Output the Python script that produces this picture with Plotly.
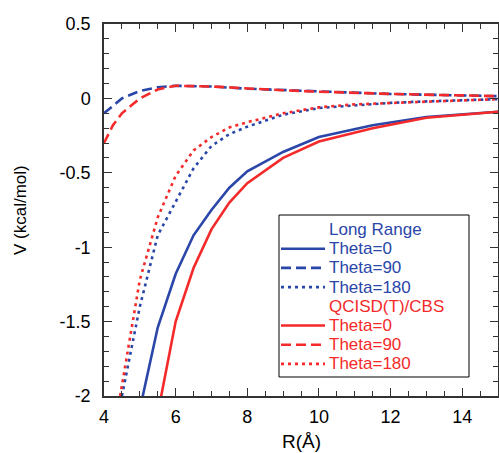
import plotly.graph_objects as go

BLUE = "#2a46a8"
RED = "#f42a2a"

# Long Range
lr_x0 = [5.0, 5.5, 6.0, 6.5, 7.0, 7.5, 8.0, 9.0, 10.0, 11.5, 13.0, 15.0]
lr_y0 = [-2.09, -1.54, -1.18, -0.92, -0.75, -0.60, -0.49, -0.36, -0.26, -0.18, -0.125, -0.09]
lr_x90 = [4.0, 4.5, 5.0, 5.5, 6.0, 7.0, 8.0, 9.0, 10.0, 12.0, 14.0, 15.0]
lr_y90 = [-0.10, 0.0, 0.05, 0.075, 0.085, 0.08, 0.065, 0.055, 0.045, 0.03, 0.02, 0.015]
lr_x180 = [4.5, 5.0, 5.5, 6.0, 6.5, 7.0, 7.5, 8.0, 9.0, 10.0, 11.0, 12.0, 13.0, 14.0, 15.0]
lr_y180 = [-2.0, -1.40, -0.92, -0.70, -0.47, -0.32, -0.24, -0.19, -0.11, -0.065, -0.045, -0.03, -0.02, -0.01, -0.005]

# QCISD(T)/CBS
qc_x0 = [5.5, 6.0, 6.5, 7.0, 7.5, 8.0, 9.0, 10.0, 11.5, 13.0, 15.0]
qc_y0 = [-2.12, -1.50, -1.14, -0.88, -0.70, -0.57, -0.40, -0.29, -0.20, -0.13, -0.09]
qc_x90 = [4.0, 4.25, 4.5, 5.0, 5.5, 6.0, 7.0, 8.0, 9.0, 10.0, 12.0, 14.0, 15.0]
qc_y90 = [-0.30, -0.18, -0.10, 0.0, 0.06, 0.085, 0.08, 0.065, 0.055, 0.045, 0.03, 0.02, 0.015]
qc_x180 = [4.45, 5.0, 5.5, 6.0, 6.5, 7.0, 7.5, 8.0, 9.0, 10.0, 11.0, 12.0, 13.0, 14.0, 15.0]
qc_y180 = [-2.0, -1.22, -0.80, -0.52, -0.35, -0.26, -0.195, -0.16, -0.10, -0.06, -0.04, -0.03, -0.02, -0.01, -0.005]

x_ticks = [4, 6, 8, 10, 12, 14]
y_ticks = [-2, -1.5, -1, -0.5, 0, 0.5]
y_ticklabels = ["-2", "-1.5", "-1", "-0.5", "0", "0.5"]

# legend entries: (text, color, dash or None for a group header)
legend_rows = [
    ("Long Range", BLUE, None),
    ("Theta=0", BLUE, "solid"),
    ("Theta=90", BLUE, "10px,5px"),
    ("Theta=180", BLUE, "3px,4px"),
    ("QCISD(T)/CBS", RED, None),
    ("Theta=0", RED, "solid"),
    ("Theta=90", RED, "10px,5px"),
    ("Theta=180", RED, "3px,4px"),
]

DASH = "10px,5px"
DOT = "3px,4px"
LW = 2.6

W, H = 499, 453
L, R, T, B = 104, 1, 24, 57
PW, PH = W - L - R, H - T - B

def px2paper_x(px):
    return (px - L) / PW

def px2paper_y(py):
    return (H - B - py) / PH

fig = go.Figure()
series = [
    (lr_x0, lr_y0, BLUE, "solid"),
    (lr_x90, lr_y90, BLUE, DASH),
    (lr_x180, lr_y180, BLUE, DOT),
    (qc_x0, qc_y0, RED, "solid"),
    (qc_x90, qc_y90, RED, DASH),
    (qc_x180, qc_y180, RED, DOT),
]
for xs, ys, c, d in series:
    fig.add_trace(go.Scatter(x=xs, y=ys, mode="lines", showlegend=False,
                             line=dict(color=c, width=LW, dash=d)))

FONT = "Liberation Sans, Arial, sans-serif"

shapes = []
annotations = []
# legend box
shapes.append(dict(type="rect", xref="paper", yref="paper",
                   x0=px2paper_x(279), x1=px2paper_x(469),
                   y0=px2paper_y(377), y1=px2paper_y(215),
                   line=dict(color="black", width=1), fillcolor="white", layer="above"))
row_y0, row_dy = 229.5, 19.2
for i, (txt, c, d) in enumerate(legend_rows):
    yc = row_y0 + i * row_dy
    if d is not None:
        shapes.append(dict(type="line", xref="paper", yref="paper",
                           x0=px2paper_x(281), x1=px2paper_x(325),
                           y0=px2paper_y(yc), y1=px2paper_y(yc),
                           line=dict(color=c, width=LW, dash=d), layer="above"))
    annotations.append(dict(xref="paper", yref="paper", x=px2paper_x(328), y=px2paper_y(yc),
                            xanchor="left", yanchor="middle", showarrow=False, borderpad=0,
                            text=txt, font=dict(family=FONT, size=17, color=c)))

annotations.append(dict(xref="paper", yref="paper", x=px2paper_x(301), y=px2paper_y(442),
                        xanchor="center", yanchor="middle", showarrow=False,
                        text="R(Å)", font=dict(family=FONT, size=19, color="black")))
annotations.append(dict(xref="paper", yref="paper", x=px2paper_x(20), y=px2paper_y(210),
                        xanchor="center", yanchor="middle", showarrow=False, textangle=-90,
                        text="V (kcal/mol)", font=dict(family=FONT, size=17, color="black")))

axis_common = dict(
    showline=True, linecolor="#333333", linewidth=1.5, mirror="ticks",
    ticks="inside", ticklen=8, tickwidth=1.3, tickcolor="#333333",
    showgrid=False, zeroline=False, automargin=False,
    tickfont=dict(family=FONT, size=18, color="black"),
)

fig.update_layout(
    width=W, height=H,
    margin=dict(l=L, r=R, t=T, b=B, autoexpand=False),
    paper_bgcolor="white", plot_bgcolor="white",
    font=dict(family=FONT, color="black"),
    showlegend=False,
    shapes=shapes,
    annotations=annotations,
    xaxis=dict(
        **axis_common, range=[4, 15], tickmode="array", tickvals=x_ticks,
        minor=dict(dtick=0.5, ticks="inside", ticklen=5, tickcolor="#333333", tickwidth=1),
        ticklabelstandoff=4,
    ),
    yaxis=dict(
        **axis_common, range=[-2, 0.5], tickmode="array", tickvals=y_ticks,
        ticktext=y_ticklabels,
        minor=dict(dtick=0.1, ticks="inside", ticklen=5, tickcolor="#333333", tickwidth=1),
        ticklabelstandoff=8,
    ),
)

fig.write_html("out.html", config={"displayModeBar": False},
               post_script="document.body.style.margin='0px';document.body.style.overflow='hidden';")
